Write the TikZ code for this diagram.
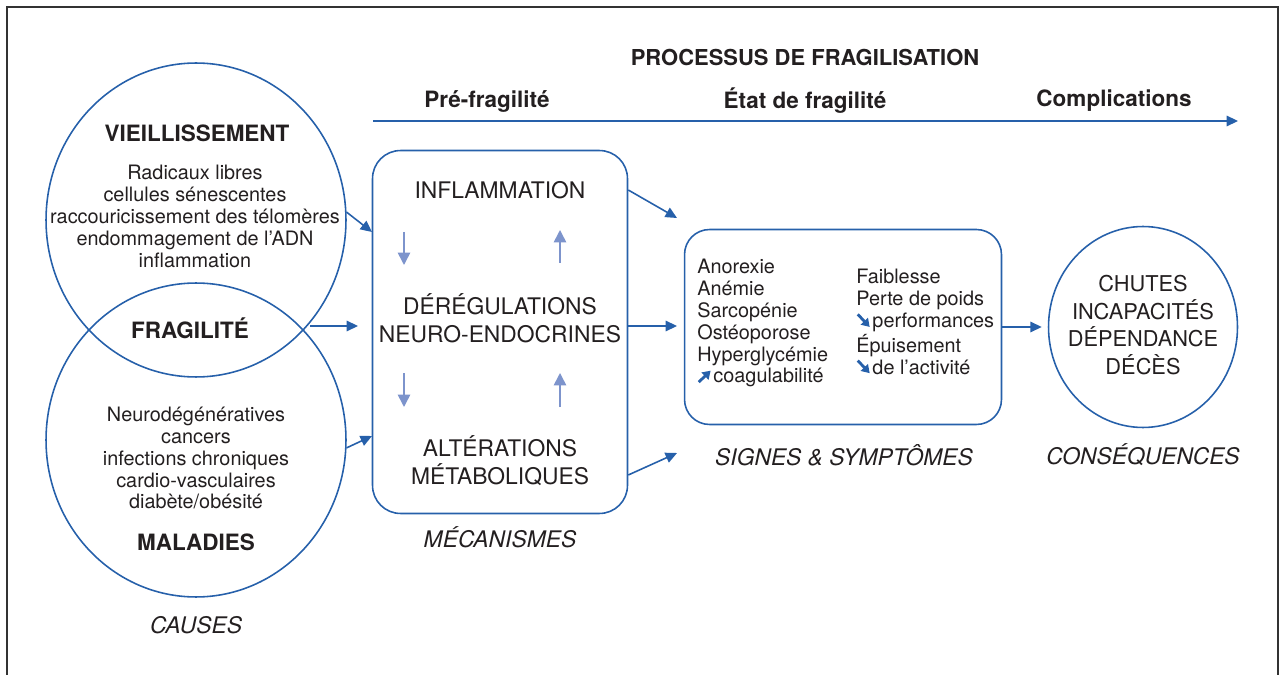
\documentclass[tikz,border=0pt]{standalone}
\usepackage{fontspec}
\setmainfont{TeX Gyre Heros}
\usetikzlibrary{arrows.meta,shapes.geometric}

\definecolor{fragblue}{RGB}{38,96,170}
\definecolor{softblue}{RGB}{125,148,204}
\definecolor{inkgray}{RGB}{35,31,32}

\newcommand{\hausse}{\tikz[baseline=0pt]\draw[fragblue, line width=1.6pt, -{Triangle[length=4.5pt,width=5.5pt]}] (0,0.5pt) -- (0.6em,0.62em);\kern0.8pt}
\newcommand{\baisse}{\tikz[baseline=0pt]\draw[fragblue, line width=1.6pt, -{Triangle[length=4.5pt,width=5.5pt]}] (0,0.68em) -- (0.6em,0.5pt);\kern0.8pt}

\tikzset{
    blueline/.style={draw=fragblue, line width=0.9pt, inner sep=0pt},
    bluearrow/.style={fragblue, line width=0.9pt, -{Triangle[length=6.5pt,width=6pt]}},
    softarrow/.style={softblue, line width=0.9pt, -{Triangle[length=7pt,width=7pt]}},
    headtext/.style={inkgray, font=\fontsize{12.8}{15}\selectfont\bfseries},
    causetext/.style={inkgray, align=center, font=\fontsize{11.3}{12.5}\selectfont},
    listtext/.style={inkgray, align=left, inner sep=0pt, anchor=west, font=\fontsize{11.3}{12.5}\selectfont},
    mecatext/.style={inkgray, align=center, font=\fontsize{13}{15.9}\selectfont},
    consqtext/.style={inkgray, align=center, font=\fontsize{12.4}{15.6}\selectfont},
    captext/.style={inkgray, font=\fontsize{13}{15}\selectfont\itshape},
}

\begin{document}
\begin{tikzpicture}[x=0.02cm, y=-0.02cm]
    \useasboundingbox (0,0) rectangle (1284,675);

    % Cadre
    \draw[line width=1.6pt, black!80] (7,675) -- (7,7) -- (1278,7) -- (1278,675);

    % Processus de fragilisation
    \node[headtext, font=\fontsize{12.5}{15}\selectfont\bfseries] (titre) at (805,57) {PROCESSUS DE FRAGILISATION};
    \node[headtext] (pre) at (487,101) {Pré-fragilité};
    \node[headtext] (etat) at (805,101) {État de fragilité};
    \node[headtext] (compl) at (1114,101) {Complications};
    \coordinate (t0) at (373,121);
    \coordinate (t1) at (1238,121);
    \draw[bluearrow] (t0) -- (t1);

    % Causes
    \node[blueline, ellipse, minimum width=6cm, minimum height=6.28cm] (vieil) at (196,220) {};
    \node[blueline, ellipse, minimum width=6cm, minimum height=6.28cm] (malad) at (196,440) {};
    \node[headtext] (vieiltitre) at (197,133) {VIEILLISSEMENT};
    \node[causetext] (vieilliste) at (195,216) {Radicaux libres\\cellules sénescentes\\raccouricissement des télomères\\endommagement de l’ADN\\inflammation};
    \node[headtext] (fragil) at (190,328) {FRAGILITÉ};
    \node[causetext] (maladliste) at (196,458) {Neurodégénératives\\cancers\\infections chroniques\\cardio-vasculaires\\diabète/obésité};
    \node[headtext] (maladtitre) at (196,542) {MALADIES};
    \node[captext] (causes) at (196,625) {CAUSES};

    % Mecanismes
    \node[blueline, rounded corners=0.56cm, minimum width=5.1cm, minimum height=7.26cm] (meca) at (500,332) {};
    \node[mecatext] (infl) at (500,190) {INFLAMMATION};
    \node[mecatext] (dereg) at (500,318) {DÉRÉGULATIONS\\NEURO-ENDOCRINES};
    \node[mecatext] (alter) at (500,461) {ALTÉRATIONS\\MÉTABOLIQUES};
    \node[captext] (mecanismes) at (500,537) {MÉCANISMES};
    \foreach \xa/\ya/\yb in {404/232/265, 404/373/407, 560/263/230, 560/407/373}
        \draw[softarrow] (\xa,\ya) -- (\xa,\yb);

    % Signes et symptomes
    \node[blueline, rounded corners=0.5cm, minimum width=6.34cm, minimum height=3.9cm] (signes) at (843,327) {};
    \node[listtext] (signesg) at (697,323) {Anorexie\\Anémie\\Sarcopénie\\Ostéoporose\\Hyperglycémie\\\hausse coagulabilité};
    \node[listtext] (signesd) at (856,322) {Faiblesse\\Perte de poids\\\baisse performances\\Épuisement\\\baisse de l’activité};
    \node[captext] (symptomes) at (844,455) {SIGNES \& SYMPTÔMES};

    % Consequences
    \node[blueline, ellipse, minimum width=3.78cm, minimum height=4.02cm] (conseq) at (1143,327) {};
    \node[consqtext] (conseqliste) at (1143,325) {CHUTES\\INCAPACITÉS\\DÉPENDANCE\\DÉCÈS};
    \node[captext] (consequences) at (1143,455) {CONSÉQUENCES};

    % Fleches
    \coordinate (m1) at (372,232);
    \coordinate (f0) at (310,326);
    \coordinate (f1) at (358,326);
    \coordinate (m3) at (372,436);
    \draw[bluearrow] (vieil.3) -- (m1);
    \draw[bluearrow] (f0) -- (f1);
    \draw[bluearrow] (malad.-3) -- (m3);
    \coordinate (s1) at (677,218);
    \coordinate (s2) at (677,326);
    \coordinate (s3) at (677,453);
    \draw[bluearrow] (meca.east |- infl) -- (s1);
    \draw[bluearrow] (meca.east |- s2) -- (s2);
    \draw[bluearrow] (meca.east |- 0,475) -- (s3);
    \draw[bluearrow] (signes.east) -- ([xshift=-0.12cm]conseq.west);
\end{tikzpicture}
\end{document}
